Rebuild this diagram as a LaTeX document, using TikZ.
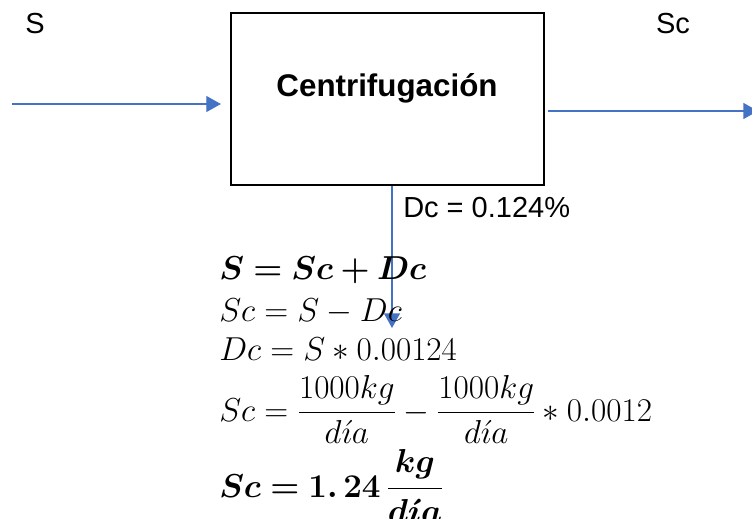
\documentclass[tikz,border=0pt]{standalone}
\usepackage{amsmath,bm}
\usepackage{fontspec}
\usepackage{xcolor,tikz}
\usetikzlibrary{positioning,calc,arrows.meta}
\newfontfamily\arialfont{Liberation Sans}
\definecolor{flowBlue}{HTML}{4472C4}

\tikzset{
  flowArrow/.style={draw=flowBlue, line width=1pt,
    -{Triangle[length=11pt,width=12pt]}},
  procBox/.style={draw=black, line width=1.6pt, minimum width=313*0.75pt,
    minimum height=172*0.75pt, inner sep=0pt},
  streamLbl/.style={font=\arialfont\fontsize{21.75}{26}\selectfont, inner sep=0pt},
  eqLine/.style={font=\fontsize{24}{29}\selectfont, inner sep=0pt, anchor=base west}
}

\begin{document}
\begin{tikzpicture}[x=0.75pt, y=-0.75pt]
\useasboundingbox (0,0) rectangle (752,518);

%% process block ====================================================
\node[procBox] (centri) at (387.5, 99) {};
\node[font=\arialfont\bfseries\fontsize{23.5}{28}\selectfont, inner sep=0pt]
  (centriTxt) at (387, 88) {Centrifugación};

%% streams ==========================================================
\node[streamLbl] (lblS) at (35, 24) {S};
\node[streamLbl] (lblSc) at (673, 24) {Sc};
\node[streamLbl, anchor=west] (lblDc) at (403, 208) {Dc = 0.124\%};

\coordinate (inS) at (12, 104);
\coordinate (outSc) at (758, 111);
\coordinate (outDc) at (392, 328);
\draw[flowArrow, shorten >=9*0.75pt] (inS) -- (centri.west |- inS);
\draw[flowArrow, shorten <=3*0.75pt] (centri.east |- outSc) -- (outSc);
\draw[flowArrow] (centri.south -| outDc) -- (outDc);

%% balance ==========================================================
\node[eqLine] (eq1) at (219, 279) {$\bm{S=Sc+Dc}$};
\node[eqLine] (eq2) at (219, 321) {$Sc=S-Dc$};
\node[eqLine] (eq3) at (219, 360) {$Dc=S\ast0.00124$};
\node[eqLine] (eq4) at (219, 421)
  {$Sc=\dfrac{1000kg}{d\acute{\imath}a}-\dfrac{1000kg}{d\acute{\imath}a}\ast0.0012$};
\node[eqLine] (eq5) at (219, 497)
  {$\bm{Sc=1.\,24\,\dfrac{kg}{d\acute{\imath}a}}$};

\end{tikzpicture}
\end{document}
